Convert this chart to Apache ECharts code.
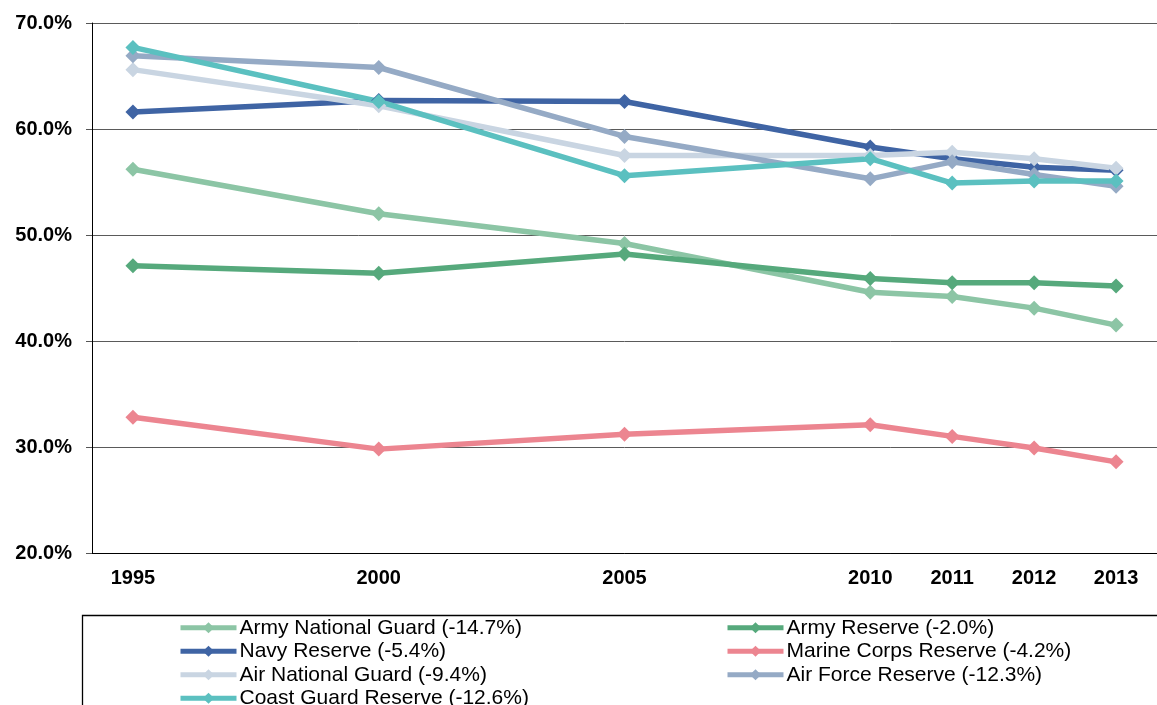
<!DOCTYPE html>
<html>
<head>
<meta charset="utf-8">
<script src="https://cdn.jsdelivr.net/npm/echarts@6/dist/echarts.min.js"></script>
<style>
html,body{margin:0;padding:0;background:#fff;}
#chart{width:1157px;height:705px;}
</style>
</head>
<body>
<div id="chart"></div>
<script>
// Axis slots (the source chart spaces 1995-2010 in 5-year steps and 2010-2013 in 1-year steps)
const xSlots = ['1995', '', '', '2000', '', '', '2005', '', '', '2010', '2011', '2012', '2013'];
const years = ['1995', '2000', '2005', '2010', '2011', '2012', '2013'];
const yTicks = [20, 30, 40, 50, 60, 70];

const armyNationalGuard = [56.2, 52.0, 49.2, 44.6, 44.2, 43.1, 41.5];
const armyReserve       = [47.1, 46.4, 48.2, 45.9, 45.5, 45.5, 45.2];
const navyReserve       = [61.6, 62.7, 62.6, 58.3, 57.2, 56.4, 56.1];
const marineCorpsReserve= [32.8, 29.8, 31.2, 32.1, 31.0, 29.9, 28.6];
const airNationalGuard  = [65.6, 62.2, 57.5, 57.5, 57.8, 57.2, 56.3];
const airForceReserve   = [66.9, 65.8, 59.3, 55.3, 56.9, 55.7, 54.6];
const coastGuardReserve = [67.7, 62.6, 55.6, 57.2, 54.9, 55.1, 55.1];

const names = {
  ang: 'Army National Guard (-14.7%)',
  ar: 'Army Reserve (-2.0%)',
  navy: 'Navy Reserve (-5.4%)',
  marine: 'Marine Corps Reserve (-4.2%)',
  airng: 'Air National Guard (-9.4%)',
  af: 'Air Force Reserve (-12.3%)',
  coast: 'Coast Guard Reserve (-12.6%)'
};

const seriesDefs = [
  [names.ang, armyNationalGuard, '#8cc5a5'],
  [names.ar, armyReserve, '#56a97c'],
  [names.navy, navyReserve, '#3f64a4'],
  [names.marine, marineCorpsReserve, '#ec8590'],
  [names.airng, airNationalGuard, '#c9d5e2'],
  [names.af, airForceReserve, '#95aac5'],
  [names.coast, coastGuardReserve, '#5bc0c0']
];

const slotOf = y => xSlots.indexOf(y);

const chart = echarts.init(document.getElementById('chart'), null, {renderer: 'canvas'});
const font = '"Liberation Sans", Arial, sans-serif';

const legendCommon = {
  orient: 'vertical',
  top: 616,
  height: 200,
  padding: 0,
  itemGap: 0,
  itemWidth: 56,
  itemHeight: 14,
  lineStyle: {width: 5},
  textStyle: {fontFamily: font, fontSize: 21, color: '#000', lineHeight: 23.5, padding: [0, 0, 0, -2]},
  selectedMode: false
};

chart.setOption({
  animation: false,
  backgroundColor: '#fff',
  grid: {left: 92, right: -4, top: 23, bottom: 152, containLabel: false},
  xAxis: {
    type: 'value',
    min: -0.5,
    max: 12.5,
    axisLine: {show: true, onZero: false, lineStyle: {color: '#000', width: 1}},
    axisTick: {show: false},
    splitLine: {show: false},
    axisLabel: {
      customValues: years.map(slotOf),
      formatter: v => xSlots[Math.round(v)] || '',
      fontFamily: font, fontSize: 20, fontWeight: 'bold', color: '#000', margin: 15
    }
  },
  yAxis: {
    type: 'value',
    min: yTicks[0],
    max: yTicks[yTicks.length - 1],
    interval: 10,
    axisLine: {show: true, onZero: false, lineStyle: {color: '#000', width: 1}},
    axisTick: {show: true, length: 6, lineStyle: {color: '#555'}},
    splitLine: {show: true, lineStyle: {color: '#5a5a5a', width: 1}},
    axisLabel: {
      formatter: v => v.toFixed(1) + '%',
      fontFamily: font, fontSize: 20, fontWeight: 'bold', color: '#000', margin: 20
    }
  },
  legend: [
    Object.assign({left: 178, data: [names.ang, names.navy, names.airng, names.coast]}, legendCommon),
    Object.assign({left: 725, data: [names.ar, names.marine, names.af]}, legendCommon)
  ],
  graphic: [{
    type: 'rect',
    shape: {x: 82.5, y: 615.5, width: 1200, height: 200},
    style: {fill: 'none', stroke: '#000', lineWidth: 1.3},
    silent: true,
    z: -1
  }],
  series: seriesDefs.map(([name, vals, color]) => ({
    name: name,
    type: 'line',
    data: years.map((y, i) => [slotOf(y), vals[i]]),
    symbol: 'diamond',
    symbolSize: 15,
    showSymbol: true,
    lineStyle: {color: color, width: 5.5},
    itemStyle: {color: color},
    emphasis: {disabled: true}
  }))
});
</script>
</body>
</html>
